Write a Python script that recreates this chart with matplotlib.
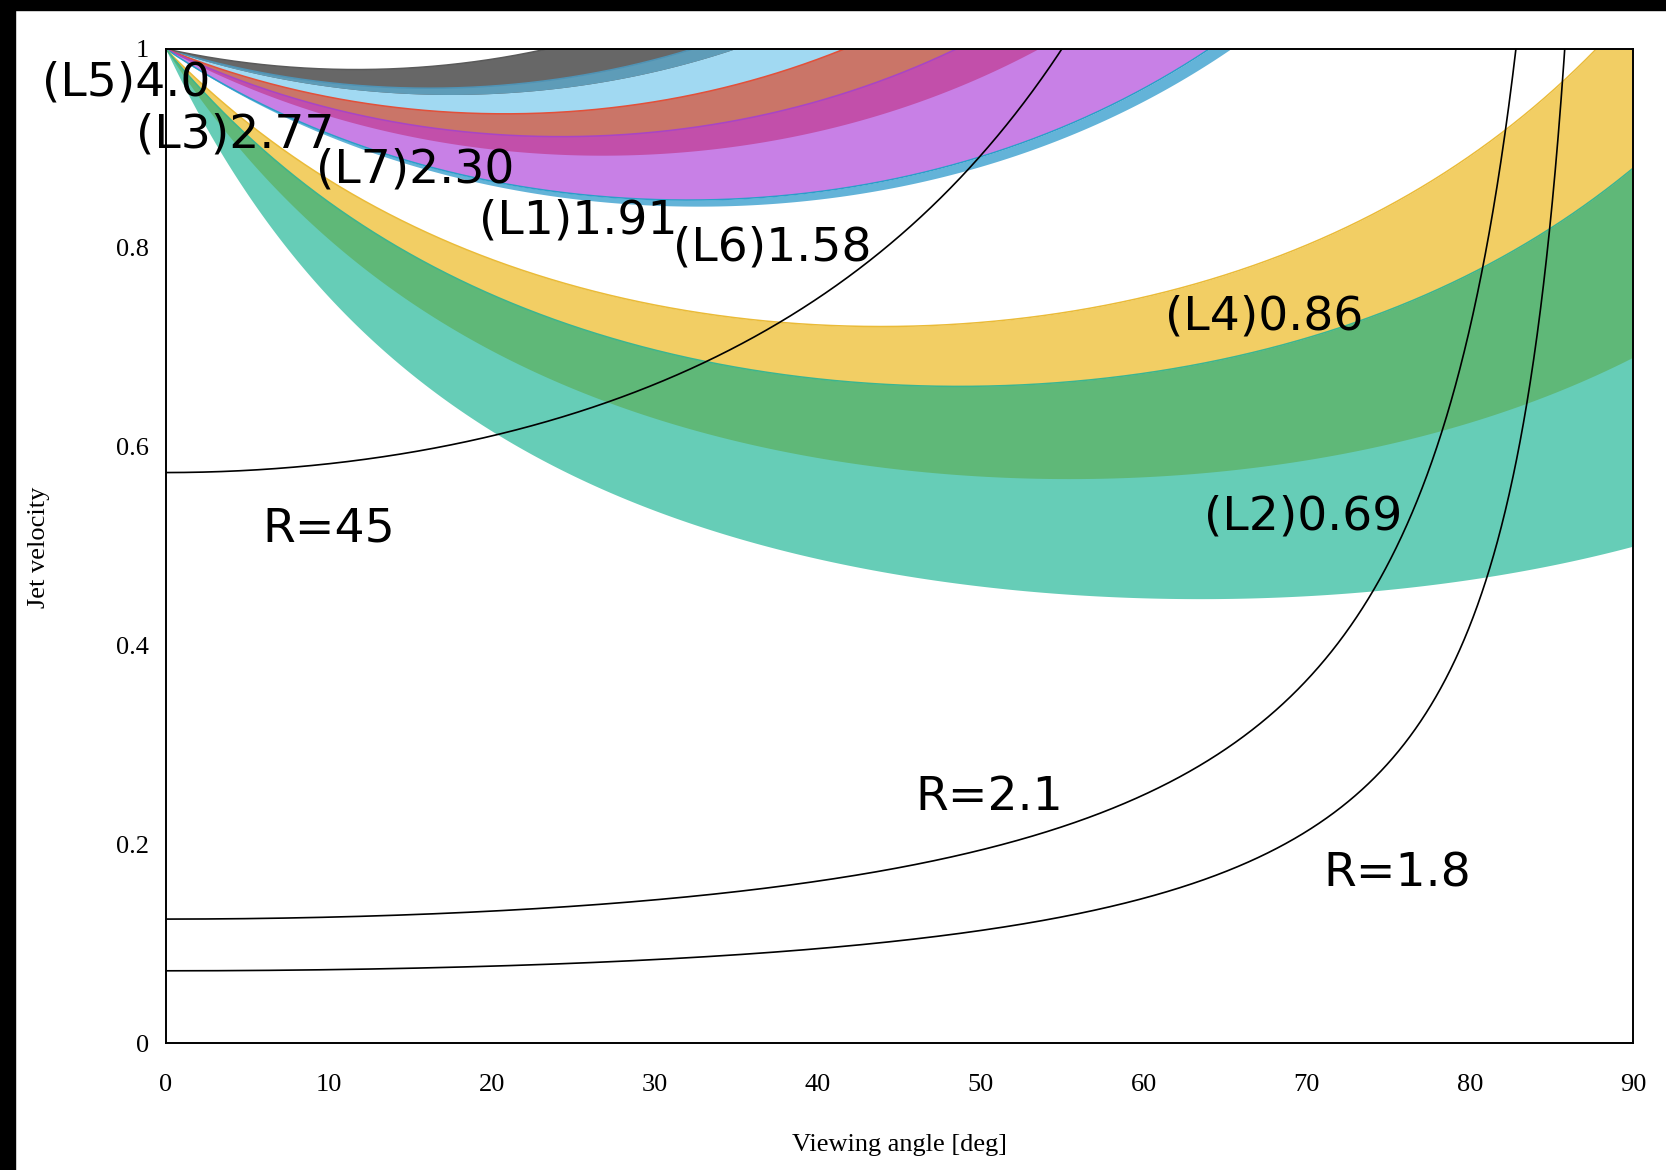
import numpy as np
import matplotlib
matplotlib.use("Agg")
import matplotlib.pyplot as plt
from matplotlib.patches import Rectangle

# ---------------- data ----------------
# apparent-speed bands (beta_app ranges)
BAND_LABELS = ["(L5)4.0", "(L3)2.77", "(L7)2.30", "(L1)1.91", "(L6)1.58", "(L4)0.86", "(L2)0.69"]
BAND_LO = [3.17, 2.09, 1.98, 1.60, 1.56, 0.69, 0.50]
BAND_HI = [4.83, 3.45, 2.63, 2.22, 1.60, 1.04, 0.88]
BAND_COLORS = ["#676767", "#a1d9f2", "#ca7568", "#c880e6", "#63b3d8", "#f2ce64", "#66cdb7"]
BAND_EDGE = ["#5a5a5a", "#4f93b5", "#e2503a", "#a845c5", "#2a9ec9", "#eabb38", "#3cb58e"]
# draw order (indices into the band lists) and overlap colours
DRAW_ORDER = [1, 0, 2, 3, 4, 5, 6]
OVERLAPS = [(0, 1, "#5e9cb8"), (2, 3, "#c24faa"), (5, 6, "#5fb878")]

# jet/counter-jet ratio curves: beta*cos(theta) = const (value at theta=0)
R_LABELS = ["R=45", "R=2.1", "R=1.8"]
R_BETA0 = [0.574, 0.125, 0.073]

# label positions (deg, beta)
BAND_LABEL_POS = [(-7.6, 0.966), (-1.8, 0.913), (9.2, 0.878), (19.2, 0.827),
                  (31.1, 0.800), (61.3, 0.730), (63.7, 0.529)]
R_LABEL_POS = [(5.9, 0.517), (46.0, 0.247), (71.0, 0.170)]

XTICKS = [0, 10, 20, 30, 40, 50, 60, 70, 80, 90]
YTICKS = [0, 0.2, 0.4, 0.6, 0.8, 1.0]
YTICKLABELS = ["0", "0.2", "0.4", "0.6", "0.8", "1"]

# ---------------- figure ----------------
W, H = 1666, 1170
fig = plt.figure(figsize=(W / 100, H / 100), dpi=100, facecolor="white")
ax = fig.add_axes([165.7 / W, 1 - 1043.4 / H, (1633 - 165.7) / W, (1043.4 - 48.9) / H])

th = np.linspace(0, 90, 3000)
t = np.radians(th)


def beta_of(ba):
    return ba / (np.sin(t) + ba * np.cos(t))


for i in DRAW_ORDER:
    ax.fill_between(th, beta_of(BAND_LO[i]), beta_of(BAND_HI[i]),
                    color=BAND_COLORS[i], lw=0, zorder=1)
for a, b, c in OVERLAPS:
    lo = max(BAND_LO[a], BAND_LO[b])
    hi = min(BAND_HI[a], BAND_HI[b])
    ax.fill_between(th, beta_of(lo), beta_of(hi), color=c, lw=0, zorder=1.1)
for i in DRAW_ORDER:
    ax.plot(th, beta_of(BAND_HI[i]), color=BAND_EDGE[i], lw=1.1, zorder=1.2)

for b0 in R_BETA0:
    ax.plot(th, b0 / np.cos(t), color="black", lw=1.2, zorder=3)

label_font = ["DejaVu Sans"]
for lab, (x, y) in zip(BAND_LABELS, BAND_LABEL_POS):
    ax.text(x, y, lab, fontsize=34, family=label_font, ha="left", va="center",
            color="black", clip_on=False, zorder=5)
for lab, (x, y) in zip(R_LABELS, R_LABEL_POS):
    ax.text(x, y, lab, fontsize=34, family=label_font, ha="left", va="center",
            color="black", clip_on=False, zorder=5)

ax.set_xlim(0, 90)
ax.set_ylim(0, 1)
ax.set_xticks(XTICKS)
ax.set_xticklabels([str(v) for v in XTICKS])
ax.set_yticks(YTICKS)
ax.set_yticklabels(YTICKLABELS)
ax.set_xticks([10, 20, 30], minor=True)
ax.tick_params(which="major", length=0, labelsize=19, labelfontfamily="Liberation Serif")
ax.tick_params(axis="x", which="major", pad=22)
ax.tick_params(axis="y", which="major", pad=12)
ax.tick_params(axis="x", which="minor", top=True, bottom=False, direction="in",
               length=9.5, width=1.0)
for s in ax.spines.values():
    s.set_linewidth(1.4)
    s.set_zorder(4)

fig.text(899 / W, 1 - 1145 / H, "Viewing angle [deg]", family="Liberation Serif",
         fontsize=19, ha="center", va="center")
fig.text(39 / W, 1 - 547 / H, "Jet velocity", family="Liberation Serif",
         fontsize=19, ha="center", va="center", rotation=90)

# black frame strips on top and left
fig.patches.append(Rectangle((0, 1 - 10 / H), 1, 10 / H, transform=fig.transFigure,
                             color="black", zorder=10))
fig.patches.append(Rectangle((0, 0), 15 / W, 1, transform=fig.transFigure,
                             color="black", zorder=10))

fig.savefig("out.png", dpi=100, facecolor="white")
